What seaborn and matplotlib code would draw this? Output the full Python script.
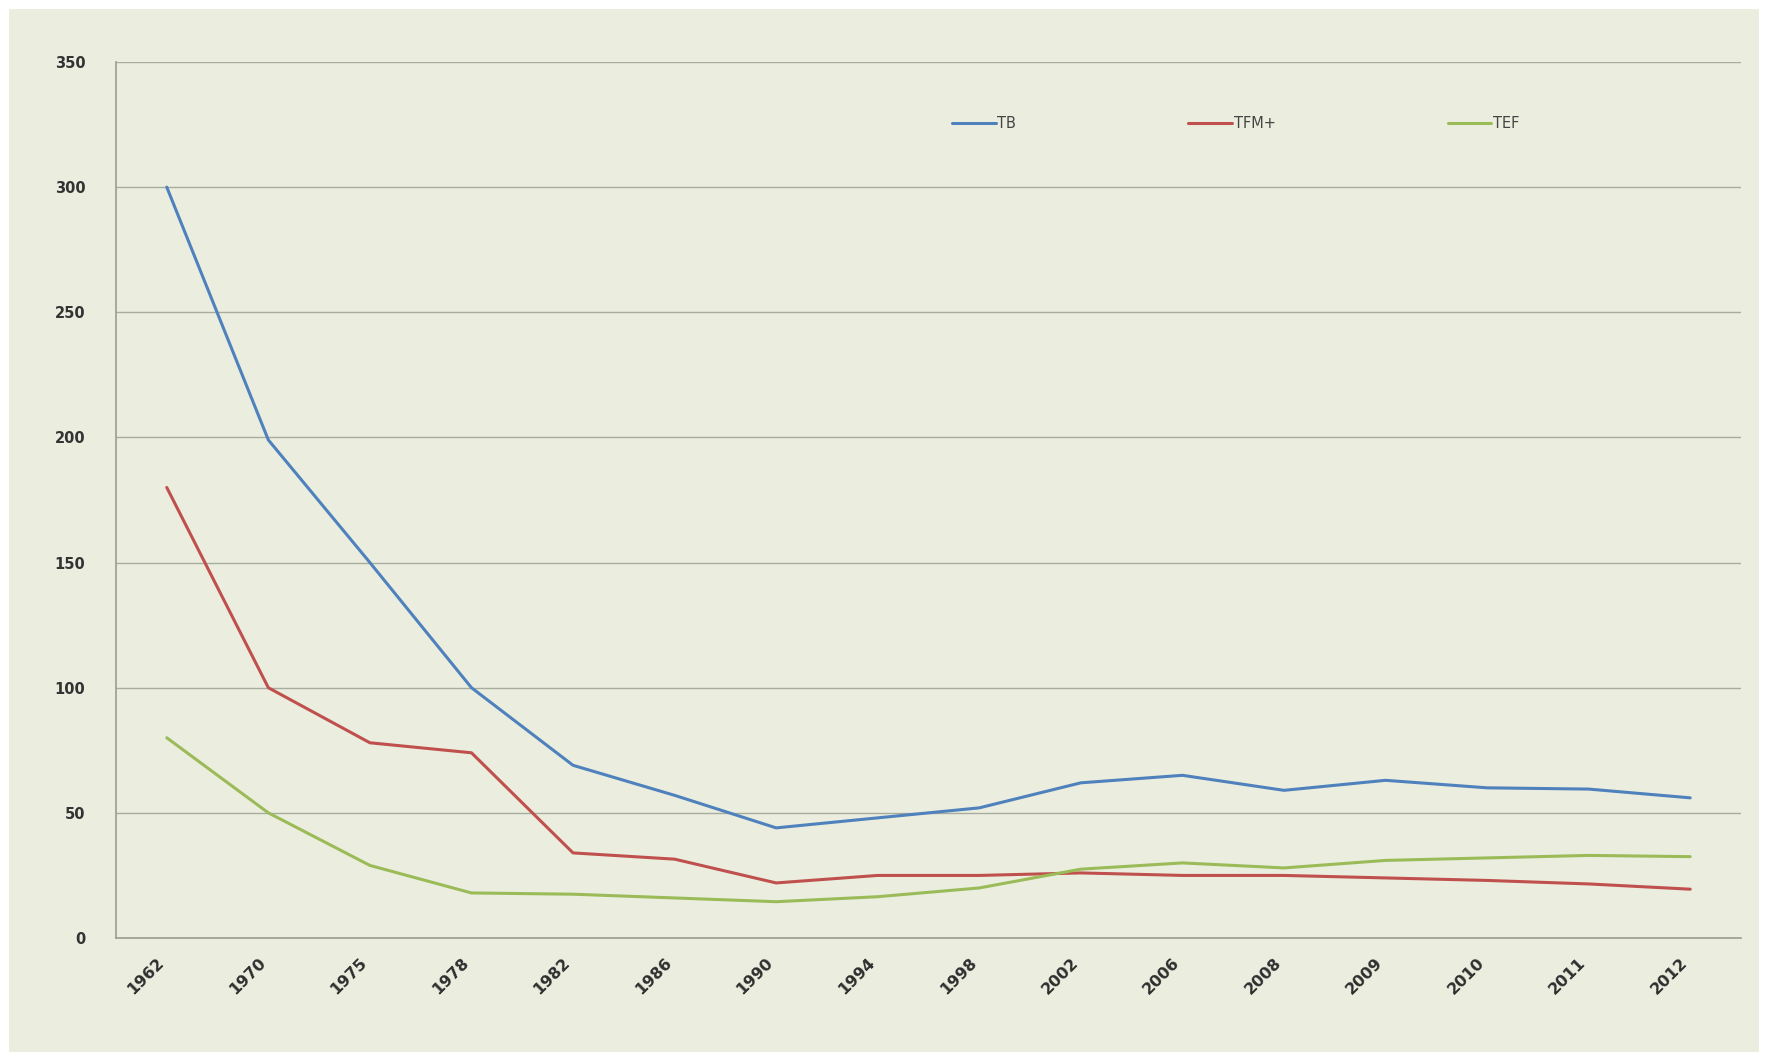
import pandas as pd
import numpy as np
import matplotlib
matplotlib.use('Agg')
import matplotlib.pyplot as plt
import seaborn as sns

years = ['1962', '1970', '1975', '1978', '1982', '1986', '1990', '1994',
         '1998', '2002', '2006', '2008', '2009', '2010', '2011', '2012']
tb = [300, 199, 150, 100, 69, 57, 44, 48, 52, 62, 65, 59, 63, 60, 59.5, 56]
tfm = [180, 100, 78, 74, 34, 31.5, 22, 25, 25, 26, 25, 25, 24, 23, 21.6, 19.5]
tef = [80, 50, 29, 18, 17.5, 16, 14.5, 16.5, 20, 27.5, 30, 28, 31, 32, 33, 32.5]
series_names = ['TB', 'TFM+', 'TEF']
colors = ['#4F81BD', '#C0504D', '#9BBB59']

df = pd.DataFrame({'year': years, 'TB': tb, 'TFM+': tfm, 'TEF': tef})
long_df = df.melt(id_vars='year', var_name='serie', value_name='valor')

bg = '#EBEEDF'
sns.set_style('white')
plt.rcParams['font.family'] = ['DejaVu Sans']

fig = plt.figure(figsize=(17.67, 10.56), dpi=100, facecolor='white')
fig.patches.append(plt.Rectangle((9 / 1767, 1 - 1052 / 1056), 1750 / 1767, 1043 / 1056,
                                 transform=fig.transFigure, facecolor=bg,
                                 edgecolor='none', zorder=-10))
ax = fig.add_axes([116 / 1767, 1 - 938 / 1056, (1741 - 116) / 1767, (938 - 62) / 1056])
ax.set_zorder(5)
ax.set_facecolor(bg)

sns.lineplot(data=long_df, x='year', y='valor', hue='serie', hue_order=series_names,
             palette=colors, linewidth=2.2, sort=False, ax=ax)

ax.set_xlim(-0.5, len(years) - 0.5)
ax.set_ylim(0, 350)
ax.set_yticks(np.arange(0, 351, 50))
ax.yaxis.grid(True, color='#A8AC9E', linewidth=1)
ax.set_axisbelow(True)
for s in ['top', 'right']:
    ax.spines[s].set_visible(False)
for s in ['left', 'bottom']:
    ax.spines[s].set_color('#9A9E90')
    ax.spines[s].set_linewidth(1.2)
ax.tick_params(axis='y', length=6, color='#9A9E90', labelsize=10.5, labelcolor='#333333', pad=16)
ax.tick_params(axis='x', length=6, color='#9A9E90', labelsize=10.5, labelcolor='#333333', pad=6)
ax.set_xticks(np.arange(len(years) + 1) - 0.5, minor=False)
ax.set_xticklabels([])
ax.set_xticks(np.arange(len(years)), minor=True)
ax.set_xticklabels(years, minor=True, rotation=45, ha='right', va='top', fontweight='bold')
ax.tick_params(axis='x', which='minor', length=0, labelsize=11.5, labelcolor='#2E2E2E', pad=12)
for lbl in ax.get_yticklabels():
    lbl.set_fontweight('bold')
ax.set_xlabel('')
ax.set_ylabel('')

ax.legend(loc='center', bbox_to_anchor=(0.689, 0.93), ncol=3, frameon=False,
          columnspacing=11.8, handlelength=3, handletextpad=0.1, fontsize=10.5,
          labelcolor='#444444')

fig.savefig('out.png', dpi=100, facecolor='white')
